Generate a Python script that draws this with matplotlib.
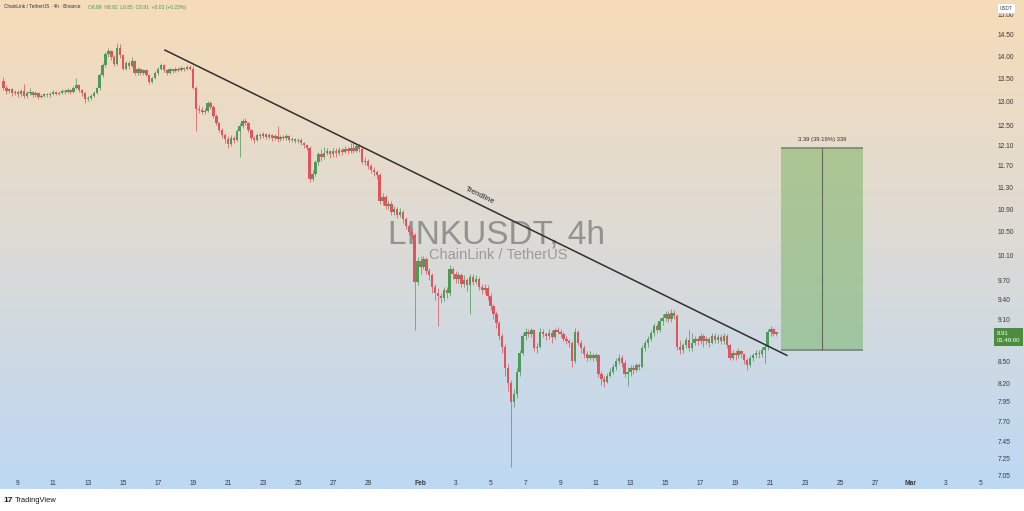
import numpy as np
import pandas as pd
import matplotlib
matplotlib.use("Agg")
import matplotlib.pyplot as plt
import matplotlib.dates as mdates
from matplotlib.colors import LinearSegmentedColormap
from matplotlib.patches import Rectangle
from matplotlib.ticker import NullLocator
import matplotlib.transforms as mtransforms

plt.rcParams['font.family'] = ['Liberation Sans', 'DejaVu Sans']

# --- LINKUSDT 4h candles ---
start_time = '2026-01-08 04:00'
first_open = 13.45

close_px = [
    13.30, 13.22, 13.26, 13.18, 13.20,          # Jan 8
    13.15, 13.22, 13.12, 13.18, 13.20, 13.14,   # Jan 9
    13.18, 13.10, 13.12, 13.15, 13.13, 13.17,   # Jan 10
    13.20, 13.16, 13.19, 13.23, 13.21, 13.25,   # Jan 11
    13.20, 13.28, 13.35, 13.24, 13.18, 13.05,   # Jan 12
    13.08, 13.12, 13.18, 13.28, 13.58, 13.80,   # Jan 13
    14.05, 14.12, 13.98, 13.82, 14.20, 14.02,   # Jan 14
    13.72, 13.85, 13.78, 13.90, 13.62, 13.70,   # Jan 15
    13.62, 13.68, 13.58, 13.42, 13.50, 13.62,   # Jan 16
    13.72, 13.80, 13.68, 13.62, 13.70, 13.66,   # Jan 17
    13.72, 13.68, 13.74, 13.70, 13.76, 13.72,   # Jan 18
    13.30, 12.85, 12.82, 12.78, 12.80, 12.96,   # Jan 19
    12.88, 12.70, 12.55, 12.40, 12.30, 12.22,   # Jan 20
    12.12, 12.25, 12.20, 12.38, 12.48, 12.60,   # Jan 21
    12.55, 12.40, 12.25, 12.20, 12.30, 12.28,   # Jan 22
    12.32, 12.26, 12.30, 12.24, 12.28, 12.22,   # Jan 23
    12.26, 12.24, 12.28, 12.20, 12.22, 12.18,   # Jan 24
    12.20, 12.14, 12.10, 12.05, 11.45, 11.55,   # Jan 25
    11.78, 11.92, 11.88, 11.95, 11.98, 11.92,   # Jan 26
    11.98, 11.94, 12.00, 11.96, 12.02, 11.98,   # Jan 27
    12.05, 11.98, 12.08, 12.02, 11.78, 11.80,   # Jan 28
    11.70, 11.62, 11.58, 11.52, 11.05, 11.12,   # Jan 29
    10.95, 11.00, 10.85, 10.90, 10.80, 10.85,   # Jan 30
    10.72, 10.60, 10.50, 10.45, 9.68, 10.02,    # Jan 31
    9.92, 10.05, 9.85, 9.78, 9.60, 9.50,        # Feb 1
    9.45, 9.42, 9.55, 9.50, 9.88, 9.80,         # Feb 2
    9.72, 9.78, 9.65, 9.70, 9.62, 9.75,         # Feb 3
    9.68, 9.72, 9.60, 9.55, 9.58, 9.45,         # Feb 4
    9.30, 9.18, 9.05, 8.85, 8.70, 8.40,         # Feb 5
    8.20, 7.95, 8.05, 8.35, 8.62, 8.85,         # Feb 6
    8.92, 8.88, 8.95, 8.68, 8.70, 8.92,         # Feb 7
    8.88, 8.85, 8.90, 8.84, 8.95, 8.92,         # Feb 8
    8.88, 8.82, 8.78, 8.75, 8.50, 8.92,         # Feb 9
    8.75, 8.68, 8.60, 8.55, 8.58, 8.55,         # Feb 10
    8.58, 8.32, 8.25, 8.22, 8.30, 8.35,         # Feb 11
    8.42, 8.50, 8.55, 8.48, 8.32, 8.35,         # Feb 12
    8.40, 8.38, 8.45, 8.42, 8.68, 8.75,         # Feb 13
    8.82, 8.90, 9.00, 8.95, 9.08, 9.12,         # Feb 14
    9.18, 9.10, 9.20, 9.15, 8.70, 8.65,         # Feb 15
    8.72, 8.80, 8.68, 8.75, 8.82, 8.78,         # Feb 16
    8.85, 8.78, 8.82, 8.76, 8.86, 8.80,         # Feb 17
    8.84, 8.78, 8.86, 8.72, 8.55, 8.62,         # Feb 18
    8.58, 8.64, 8.60, 8.52, 8.45, 8.55,         # Feb 19
    8.58, 8.62, 8.60, 8.65, 8.70, 8.92,         # Feb 20
    8.96, 8.89, 8.91,                           # Feb 21
]

high_px = [
    13.52, 13.36, 13.30, 13.30, 13.25,
    13.24, 13.26, 13.38, 13.22, 13.30, 13.23,
    13.22, 13.20, 13.16, 13.19, 13.18, 13.20,
    13.24, 13.22, 13.23, 13.27, 13.26, 13.30,
    13.27, 13.33, 13.50, 13.38, 13.26, 13.21,
    13.12, 13.16, 13.22, 13.32, 13.62, 13.85,
    14.10, 14.18, 14.15, 14.02, 14.30, 14.28,
    14.06, 13.90, 13.88, 13.98, 13.92, 13.75,
    13.74, 13.72, 13.70, 13.60, 13.54, 13.66,
    13.76, 13.84, 13.82, 13.72, 13.74, 13.72,
    13.76, 13.75, 13.78, 13.76, 13.80, 13.80,
    13.78, 13.34, 12.92, 12.88, 12.86, 13.00,
    13.00, 12.92, 12.74, 12.58, 12.44, 12.34,
    12.28, 12.30, 12.28, 12.42, 12.55, 12.64,
    12.66, 12.58, 12.42, 12.28, 12.34, 12.34,
    12.36, 12.34, 12.34, 12.32, 12.32, 12.48,
    12.30, 12.30, 12.32, 12.30, 12.26, 12.25,
    12.24, 12.24, 12.16, 12.12, 12.08, 11.62,
    11.82, 11.96, 12.02, 12.06, 12.04, 12.00,
    12.04, 12.05, 12.06, 12.04, 12.08, 12.06,
    12.14, 12.18, 12.12, 12.12, 12.06, 11.88,
    11.84, 11.74, 11.68, 11.62, 11.56, 11.20,
    11.15, 11.05, 11.04, 10.95, 10.94, 10.92,
    10.88, 10.76, 10.64, 10.56, 10.48, 10.08,
    10.10, 10.10, 10.08, 9.90, 9.82, 9.64,
    9.58, 9.50, 9.60, 9.60, 9.95, 9.92,
    9.85, 9.84, 9.82, 9.78, 9.74, 9.80,
    9.80, 9.78, 9.76, 9.64, 9.65, 9.62,
    9.50, 9.34, 9.22, 9.08, 8.90, 8.74,
    8.46, 8.24, 8.12, 8.40, 8.66, 8.90,
    8.97, 8.96, 8.98, 8.96, 8.76, 8.97,
    8.96, 8.92, 8.96, 8.94, 8.98, 8.99,
    8.96, 8.92, 8.86, 8.82, 8.78, 8.97,
    8.94, 8.80, 8.72, 8.64, 8.64, 8.62,
    8.62, 8.60, 8.36, 8.30, 8.34, 8.40,
    8.46, 8.54, 8.60, 8.58, 8.52, 8.42,
    8.44, 8.44, 8.48, 8.48, 8.72, 8.80,
    8.86, 8.94, 9.04, 9.04, 9.12, 9.18,
    9.22, 9.22, 9.25, 9.24, 9.18, 8.80,
    8.76, 8.84, 8.94, 8.90, 8.86, 8.84,
    8.90, 8.88, 8.86, 8.84, 8.90, 8.90,
    8.88, 8.88, 8.90, 8.88, 8.74, 8.66,
    8.66, 8.68, 8.66, 8.62, 8.54, 8.58,
    8.62, 8.66, 8.66, 8.70, 8.74, 8.96,
    9.00, 8.98, 8.92,
]

low_px = [
    13.25, 13.15, 13.18, 13.12, 13.14,
    13.10, 13.12, 13.08, 13.08, 13.14, 13.10,
    13.10, 13.06, 13.07, 13.09, 13.09, 13.10,
    13.14, 13.13, 13.14, 13.17, 13.17, 13.19,
    13.16, 13.18, 13.26, 13.20, 13.12, 12.96,
    13.00, 13.04, 13.10, 13.16, 13.25, 13.54,
    13.76, 13.98, 13.92, 13.78, 13.80, 13.96,
    13.68, 13.68, 13.72, 13.75, 13.58, 13.58,
    13.58, 13.58, 13.55, 13.38, 13.40, 13.48,
    13.58, 13.68, 13.64, 13.58, 13.60, 13.62,
    13.64, 13.64, 13.66, 13.66, 13.68, 13.68,
    13.26, 12.38, 12.76, 12.74, 12.74, 12.78,
    12.84, 12.66, 12.50, 12.36, 12.24, 12.14,
    12.04, 12.08, 12.15, 12.18, 11.88, 12.45,
    12.50, 12.36, 12.20, 12.14, 12.18, 12.22,
    12.24, 12.22, 12.22, 12.18, 12.20, 12.16,
    12.18, 12.20, 12.20, 12.16, 12.16, 12.14,
    12.14, 12.10, 12.04, 12.00, 11.40, 11.42,
    11.50, 11.72, 11.80, 11.84, 11.90, 11.86,
    11.88, 11.88, 11.90, 11.90, 11.94, 11.92,
    11.94, 11.94, 11.96, 11.96, 11.74, 11.72,
    11.64, 11.56, 11.50, 11.46, 11.00, 10.98,
    10.90, 10.90, 10.80, 10.80, 10.74, 10.76,
    10.66, 10.55, 10.44, 10.38, 8.95, 9.62,
    9.80, 9.88, 9.80, 9.70, 9.50, 9.40,
    9.00, 9.35, 9.38, 9.42, 9.46, 9.72,
    9.66, 9.66, 9.60, 9.60, 9.54, 9.18,
    9.62, 9.64, 9.55, 9.48, 9.50, 9.40,
    9.24, 9.10, 8.98, 8.80, 8.62, 8.30,
    8.10, 7.15, 7.88, 8.00, 8.30, 8.58,
    8.80, 8.84, 8.84, 8.64, 8.62, 8.68,
    8.84, 8.80, 8.82, 8.76, 8.82, 8.88,
    8.84, 8.78, 8.74, 8.70, 8.42, 8.48,
    8.72, 8.62, 8.54, 8.50, 8.52, 8.50,
    8.50, 8.28, 8.18, 8.15, 8.20, 8.28,
    8.32, 8.38, 8.46, 8.42, 8.28, 8.16,
    8.30, 8.32, 8.35, 8.38, 8.40, 8.64,
    8.70, 8.78, 8.86, 8.90, 8.92, 9.02,
    9.08, 9.06, 9.06, 9.10, 8.66, 8.60,
    8.62, 8.68, 8.64, 8.64, 8.72, 8.72,
    8.74, 8.70, 8.74, 8.70, 8.74, 8.76,
    8.76, 8.74, 8.74, 8.68, 8.52, 8.52,
    8.52, 8.54, 8.55, 8.46, 8.38, 8.42,
    8.50, 8.54, 8.55, 8.56, 8.48, 8.66,
    8.86, 8.85, 8.85,
]

# drawings
trend_dates = ['2026-01-17 09:30', '2026-02-21 22:30']
trend_prices = [14.14, 8.58]
box_start, box_mid, box_end = '2026-02-21 14:30', '2026-02-23 22:30', '2026-02-26 07:00'
entry_price, target_price = 8.65, 12.04
last_price = 8.91

# axes labels
price_ticks = [15.00, 14.50, 14.00, 13.50, 13.00, 12.50, 12.10, 11.70, 11.30, 10.90, 10.50,
               10.10, 9.70, 9.40, 9.10, 8.50, 8.20, 7.95, 7.70, 7.45, 7.25, 7.05]
x_tick_dates = ['2026-01-09', '2026-01-11', '2026-01-13', '2026-01-15', '2026-01-17',
                '2026-01-19', '2026-01-21', '2026-01-23', '2026-01-25', '2026-01-27',
                '2026-01-29', '2026-02-01', '2026-02-03', '2026-02-05', '2026-02-07',
                '2026-02-09', '2026-02-11', '2026-02-13', '2026-02-15', '2026-02-17',
                '2026-02-19', '2026-02-21', '2026-02-23', '2026-02-25', '2026-02-27',
                '2026-03-01', '2026-03-03', '2026-03-05']
x_tick_labels = ['9', '11', '13', '15', '17', '19', '21', '23', '25', '27', '29', 'Feb',
                 '3', '5', '7', '9', '11', '13', '15', '17', '19', '21', '23', '25', '27',
                 'Mar', '3', '5']

UP = '#4e9a58'
DOWN = '#e2535d'
W, H = 1024, 511

fig = plt.figure(figsize=(W / 100, H / 100), dpi=100)
fig.patch.set_facecolor('white')

# background gradient over the chart (pane + axes strips)
bg = fig.add_axes([0, 22 / H, 1, 489 / H])
cmap = LinearSegmentedColormap.from_list('tvbg', [(0, '#f7dcb8'), (0.5, '#dcdbd6'), (1, '#bdd8f4')])
bg.imshow(np.linspace(0, 1, 256)[:, None], aspect='auto', cmap=cmap,
          extent=[0, 1, 0, 1], origin='upper')
bg.set_axis_off()

ax = fig.add_axes([0, 35 / H, 1, 476 / H])
ax.patch.set_alpha(0)
for s in ax.spines.values():
    s.set_visible(False)
ax.set_yscale('log')

# candles
times = pd.date_range(start_time, periods=len(close_px), freq='4h')
xs = mdates.date2num(times)
close = np.array(close_px)
opn = np.concatenate([[first_open], close[:-1]])
high = np.array(high_px)
low = np.array(low_px)
cols = np.where(close >= opn, UP, DOWN)

ax.vlines(xs, low, high, colors=cols, linewidth=0.7, alpha=0.75, zorder=3)
ax.bar(xs, np.maximum(np.abs(close - opn), 0.012), bottom=np.minimum(opn, close),
       width=0.135, color=cols, linewidth=0, zorder=4)

# limits
ref = mdates.date2num(pd.Timestamp('2026-01-09'))
ax.set_xlim(ref - 18 / 17.5, ref + 1006 / 17.5)
ax.set_ylim(7.043, 15.348)

# price scale
ax.yaxis.tick_right()
ax.yaxis.set_minor_locator(NullLocator())
ax.set_yticks(price_ticks)
ax.set_yticklabels([f'{p:.2f}' for p in price_ticks])
ax.tick_params(axis='y', which='both', length=0, pad=-18.7, labelsize=4.8, labelcolor='#3a3a3a')

# time scale
ax.set_xticks(mdates.date2num(pd.to_datetime(x_tick_dates)))
ax.set_xticklabels(x_tick_labels)
ax.tick_params(axis='x', length=0, pad=3, labelsize=4.8, labelcolor='#3a3a3a')
for lbl in ax.get_xticklabels():
    if lbl.get_text() in ('Feb', 'Mar'):
        lbl.set_fontweight('bold')

# watermark
ax.text(497 / W, 1 - 243 / 476, 'LINKUSDT, 4h', transform=ax.transAxes, fontsize=24,
        color='#7a7a7a', alpha=0.75, ha='center', va='baseline', zorder=1)
ax.text(498 / W, 1 - 259 / 476, 'ChainLink / TetherUS', transform=ax.transAxes, fontsize=10.5,
        color='#8a8a8a', alpha=0.8, ha='center', va='baseline', zorder=1)

# trendline
tx = mdates.date2num(pd.to_datetime(trend_dates))
ax.plot(tx, trend_prices, color='#2f2f2f', linewidth=1.1, zorder=5)
ax.text(mdates.date2num(pd.Timestamp('2026-02-04 09:30')), 11.14, 'Trendline', rotation=-26,
        ha='center', va='center', fontsize=5.5, color='#222222', zorder=5)

# long position box
bx0, bxm, bx1 = mdates.date2num(pd.to_datetime([box_start, box_mid, box_end]))
ax.add_patch(Rectangle((bx0, entry_price), bx1 - bx0, target_price - entry_price,
                       facecolor=(0.35, 0.65, 0.25, 0.4), edgecolor='none', zorder=2))
ax.hlines([entry_price, target_price], bx0, bx1, colors='#7d8c78', linewidth=1.3, zorder=3)
ax.vlines(bxm, entry_price, target_price, colors='#5f6b5c', linewidth=0.8, zorder=3)
diff = target_price - entry_price
ax.text(bxm, 12.22, f'{diff:.2f} ({diff / entry_price * 100:.2f}%) {diff * 100:.0f}',
        ha='center', va='center', fontsize=4.2, color='#333333')

# last price label
blend = mtransforms.blended_transform_factory(ax.transAxes, ax.transData)
ax.text(997 / W, 8.84, f'{last_price:.2f}\n01:49:00', transform=blend, fontsize=4.3,
        color='white', ha='left', va='center', linespacing=1.5, clip_on=False,
        bbox=dict(boxstyle='square,pad=0.45', facecolor='#4b8c3e', edgecolor='none'))

# USDT box
ax.text(1006 / W, 1 - 8 / 476, 'USDT', transform=ax.transAxes, fontsize=3.3, color='#333333',
        ha='center', va='center',
        bbox=dict(boxstyle='square,pad=0.5', facecolor='white', edgecolor='#d0d0d0', linewidth=0.4))

# header
ax.text(4 / W, 1 - 7 / 476, 'ChainLink / TetherUS · 4h · Binance', transform=ax.transAxes,
        fontsize=3.4, color='#333333', ha='left', va='center')
ax.text(88 / W, 1 - 7 / 476, 'O8.89  H8.92  L8.85  C8.91  +0.02 (+0.22%)', transform=ax.transAxes,
        fontsize=3.6, color='#3f9a5c', ha='left', va='center')

# branding
fig.text(3 / W, 1 - 500 / H, '17', fontsize=6, fontweight='bold', color='#131722', va='center')
fig.text(15 / W, 1 - 500 / H, 'TradingView', fontsize=5.4, color='#131722', va='center')

fig.savefig('out.png', dpi=100, facecolor=fig.get_facecolor())
